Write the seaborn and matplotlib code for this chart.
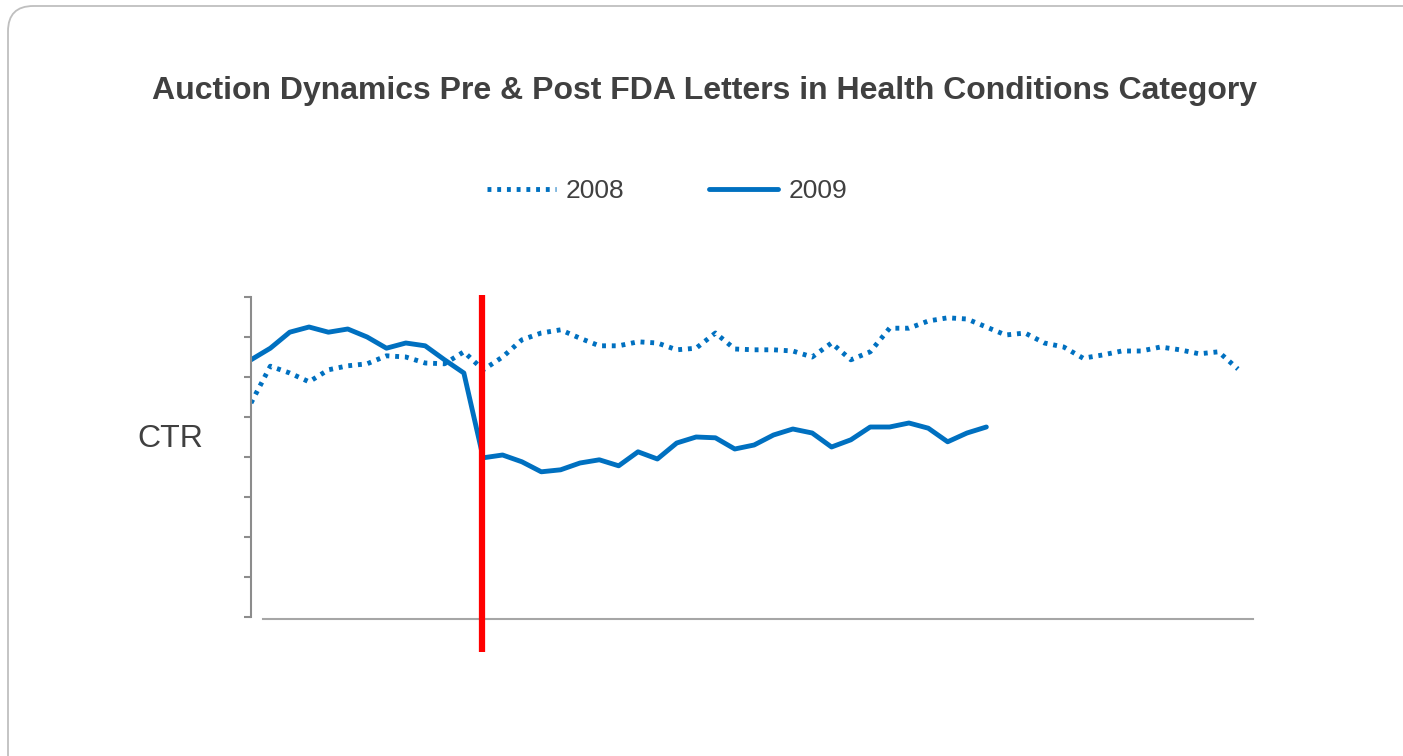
import matplotlib.pyplot as plt
import seaborn as sns
from matplotlib.patches import FancyBboxPatch

# weekly CTR index (arbitrary units, axis has no tick labels)
weeks_2008 = list(range(52))
ctr_2008 = [5.35, 6.27, 6.10, 5.88, 6.18, 6.28, 6.33, 6.53, 6.50, 6.35,
            6.33, 6.63, 6.18, 6.50, 6.93, 7.10, 7.18, 6.97, 6.78, 6.78,
            6.88, 6.85, 6.68, 6.72, 7.10, 6.70, 6.68, 6.68, 6.65, 6.50,
            6.85, 6.43, 6.63, 7.22, 7.22, 7.40, 7.48, 7.45, 7.25, 7.05,
            7.10, 6.85, 6.75, 6.47, 6.55, 6.65, 6.65, 6.75, 6.68, 6.58,
            6.63, 6.20]

weeks_2009 = list(range(39))
ctr_2009 = [6.43, 6.72, 7.12, 7.25, 7.12, 7.20, 7.00, 6.72, 6.85, 6.78,
            6.43, 6.10, 3.98, 4.05, 3.88, 3.63, 3.68, 3.85, 3.93, 3.78,
            4.13, 3.95, 4.35, 4.50, 4.48, 4.20, 4.30, 4.55, 4.70, 4.60,
            4.25, 4.43, 4.75, 4.75, 4.85, 4.72, 4.38, 4.60, 4.75]

fda_letter_week = 11.93
blue = '#0070C0'
text_color = '#404040'

sns.set_style("white")
plt.rcParams['font.family'] = ['Liberation Sans', 'DejaVu Sans']

fig = plt.figure(figsize=(14.03, 7.56), dpi=100)

# rounded frame around the chart (runs off the right and bottom edges)
frame = FancyBboxPatch((8 / 1403, 1 - 6 / 756 - 790 / 756), 1460 / 1403, 790 / 756,
                       boxstyle='round,pad=0,rounding_size=0.018',
                       transform=fig.transFigure, facecolor='none',
                       edgecolor='#BFBFBF', linewidth=1.3,
                       mutation_aspect=1403 / 756, zorder=-1)
fig.patches.append(frame)

ax = fig.add_axes([251 / 1403, 139 / 756, 1002 / 1403, 320 / 756])
ax.set_facecolor('none')

sns.lineplot(x=weeks_2008, y=ctr_2008, ax=ax, color=blue, linewidth=3.5,
             linestyle=(0, (0.8, 1.2)), label='2008')
sns.lineplot(x=weeks_2009, y=ctr_2009, ax=ax, color=blue, linewidth=3.5,
             label='2009')

ax.vlines(fda_letter_week, -0.88, 8.06, color='#FF0000', linewidth=4.5,
          clip_on=False, zorder=5)

ax.set_xlim(0, 51.78)
ax.set_ylim(0, 8)
ax.set_xticks([])
ax.set_yticks(range(9))
ax.set_yticklabels([])
ax.tick_params(axis='y', length=5, width=1.5, color='#8C8C8C', left=True)

for side in ['top', 'right']:
    ax.spines[side].set_visible(False)
ax.spines['left'].set_color('#8C8C8C')
ax.spines['left'].set_linewidth(1.5)
ax.spines['bottom'].set_color('#A6A6A6')
ax.spines['bottom'].set_linewidth(1.5)
ax.spines['bottom'].set_bounds(0.62, 51.78)
ax.spines['bottom'].set_position(('outward', 1.5))

ax.set_ylabel('CTR', rotation=0, fontsize=23, color=text_color, labelpad=0)
ax.yaxis.set_label_coords(-0.081, 0.51)

fig.text(704 / 1403, 1 - 91 / 756, 'Auction Dynamics Pre & Post FDA Letters in Health Conditions Category',
         ha='center', va='center', fontsize=23, fontweight='bold', color=text_color)

leg = ax.legend(loc='center', bbox_to_anchor=(667 / 1403, 1 - 191 / 756),
                bbox_transform=fig.transFigure, ncol=2, frameon=False,
                fontsize=19, handlelength=2.6, handletextpad=0.4,
                columnspacing=3.2, labelcolor=text_color)

fig.savefig('out.png', dpi=100)
